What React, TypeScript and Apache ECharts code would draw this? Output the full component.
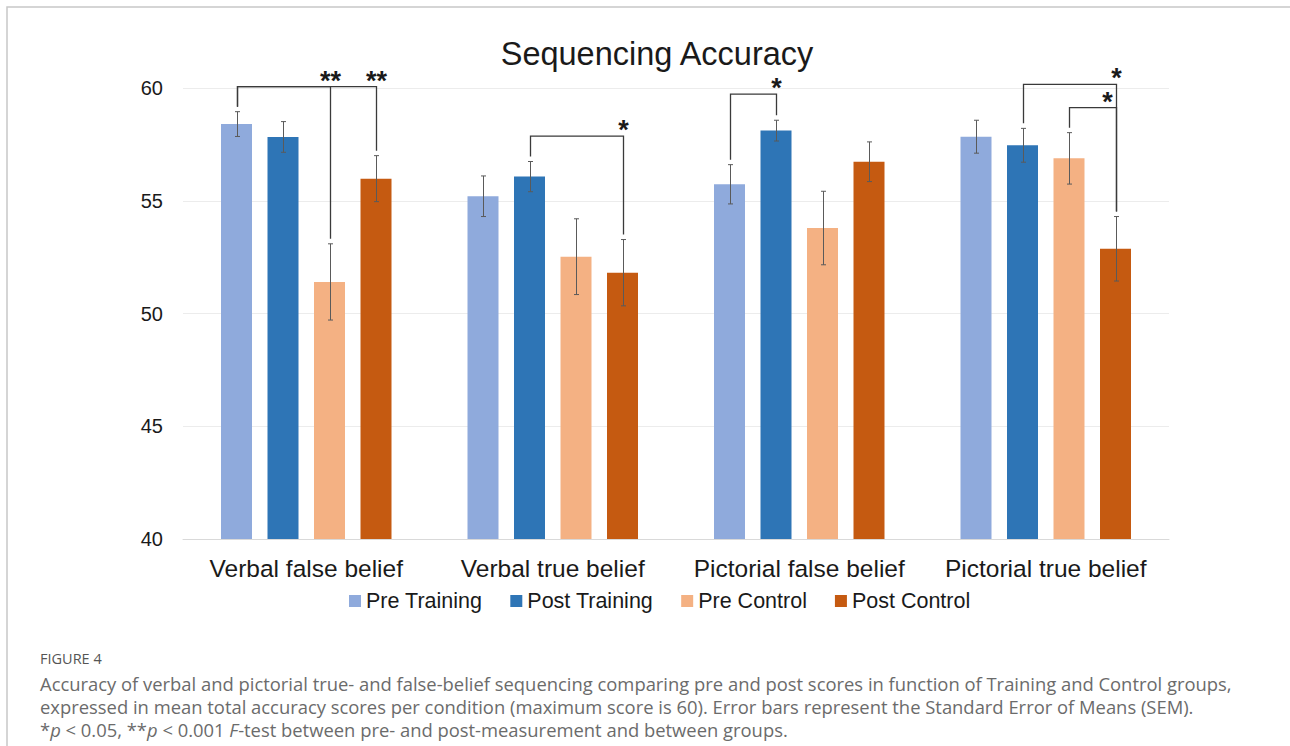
import React, { useEffect, useRef } from "react";
import * as echarts from "echarts";

// ---------- data ----------
const categories = [
  "Verbal false belief",
  "Verbal true belief",
  "Pictorial false belief",
  "Pictorial true belief",
];
const seriesNames = ["Pre Training", "Post Training", "Pre Control", "Post Control"];
const preTraining = [58.4, 55.2, 55.73, 57.84];
const postTraining = [57.83, 56.07, 58.11, 57.46];
const preControl = [51.4, 52.52, 53.79, 56.88];
const postControl = [55.98, 51.81, 56.73, 52.87];
const semPreTraining = [0.55, 0.9, 0.87, 0.73];
const semPostTraining = [0.68, 0.67, 0.46, 0.75];
const semPreControl = [1.69, 1.68, 1.63, 1.14];
const semPostControl = [1.02, 1.47, 0.88, 1.43];
const yMin = 40;
const yMax = 60;
const yInterval = 5;

// significance brackets (category index, from-series, to-series, bracket level, label)
const bracketCategory = [0, 0, 1, 2, 3, 3];
const bracketFrom = [0, 0, 1, 0, 1, 2];
const bracketTo = [2, 3, 3, 1, 3, 3];
const bracketLevel = [60.06, 60.06, 57.87, 59.73, 60.16, 59.13];
const bracketLabel = ["**", "**", "*", "*", "*", "*"];

const captionTitle = "FIGURE 4";
const captionLines = [
  "Accuracy of verbal and pictorial true- and false-belief sequencing comparing pre and post scores in function of Training and Control groups,",
  "expressed in mean total accuracy scores per condition (maximum score is 60). Error bars represent the Standard Error of Means (SEM).",
  "*{i|p} < 0.05, **{i|p} < 0.001 {i|F}-test between pre- and post-measurement and between groups.",
];

// ---------- styling ----------
const colors = ["#8FAADC", "#2E75B6", "#F4B183", "#C55A11"];
const BAR_WIDTH = 31;
const BAR_GAP = 0.5;
const CAP = 2.5;
const FONT = "'Liberation Sans', Arial, sans-serif";
const CAPTION_FONT = "'Open Sans', 'Noto Sans', sans-serif";

const allValues = [preTraining, postTraining, preControl, postControl];
const allSem = [semPreTraining, semPostTraining, semPreControl, semPostControl];

const barOffset = (s: number) => (s - 1.5) * BAR_WIDTH * (1 + BAR_GAP);

export default function App() {
  const ref = useRef<HTMLDivElement>(null);

  useEffect(() => {
    if (!ref.current) return;
    const chart = echarts.init(ref.current, undefined, { renderer: "svg" });

    const errorData: number[][] = [];
    allValues.forEach((vals, s) => {
      vals.forEach((v, c) => errorData.push([c, v, allSem[s][c], s]));
    });

    const bracketData = bracketCategory.map((c, i) => [c, bracketLevel[i], bracketFrom[i], bracketTo[i], i]);

    const option: any = {
      animation: false,
      backgroundColor: "#ffffff",
      grid: { left: 183, right: 121, top: 88, bottom: 207, containLabel: false },
      legend: {
        data: seriesNames,
        left: 344,
        top: 585,
        icon: "rect",
        itemWidth: 12,
        itemHeight: 12,
        itemGap: 28,
        textStyle: { fontSize: 21.5, color: "#1a1a1a", fontFamily: FONT },
      },
      xAxis: {
        type: "category",
        data: categories,
        axisLine: { lineStyle: { color: "#d9d9d9", width: 1 } },
        axisTick: { show: false },
        axisLabel: { fontSize: 24.5, color: "#1a1a1a", fontFamily: FONT, margin: 17, interval: 0 },
        splitLine: { show: false },
      },
      yAxis: {
        type: "value",
        min: yMin,
        max: yMax,
        interval: yInterval,
        axisLine: { show: false },
        axisTick: { show: false },
        axisLabel: { fontSize: 20, color: "#1a1a1a", fontFamily: FONT, margin: 20 },
        splitLine: { lineStyle: { color: "#ececec", width: 1 } },
      },
      series: [
        ...allValues.map((vals, s) => ({
          name: seriesNames[s],
          type: "bar",
          data: vals,
          barWidth: BAR_WIDTH,
          barGap: `${BAR_GAP * 100}%`,
          itemStyle: { color: colors[s] },
          z: 2,
        })),
        {
          type: "custom",
          name: "error",
          data: errorData,
          encode: { x: 0, y: 1 },
          z: 5,
          clip: false,
          silent: true,
          renderItem: (_p: any, api: any) => {
            const c = api.value(0);
            const v = api.value(1);
            const e = api.value(2);
            const s = api.value(3);
            const base = api.coord([c, v]);
            const x = Math.round(base[0] + barOffset(s)) + 0.5;
            const top = api.coord([c, v + e])[1];
            const bot = api.coord([c, v - e])[1];
            const st = { stroke: "#5a5a5a", lineWidth: 1 };
            return {
              type: "group",
              children: [
                { type: "line", shape: { x1: x, y1: top, x2: x, y2: bot }, style: st },
                { type: "line", shape: { x1: x - CAP, y1: top, x2: x + CAP, y2: top }, style: st },
                { type: "line", shape: { x1: x - CAP, y1: bot, x2: x + CAP, y2: bot }, style: st },
              ],
            };
          },
        },
        {
          type: "custom",
          name: "brackets",
          data: bracketData,
          encode: { x: 0, y: 1 },
          z: 6,
          clip: false,
          silent: true,
          renderItem: (_p: any, api: any) => {
            const c = api.value(0);
            const level = api.value(1);
            const f = api.value(2);
            const t = api.value(3);
            const idx = api.value(4);
            const base = api.coord([c, level]);
            const yL = base[1];
            const xF = Math.round(base[0] + barOffset(f)) + 0.5;
            const xT = Math.round(base[0] + barOffset(t)) + 0.5;
            const topF = api.coord([c, allValues[f][c] + allSem[f][c]])[1] - 5;
            const topT = api.coord([c, allValues[t][c] + allSem[t][c]])[1] - 5;
            // shift the label left when a taller bracket's leg passes through the same spot
            const blocked = bracketCategory.some(
              (cc, j) => j !== idx && cc === c && bracketTo[j] === t && bracketLevel[j] > level
            );
            const st = { stroke: "#3a3a3a", lineWidth: 1.3, fill: "none" };
            return {
              type: "group",
              children: [
                {
                  type: "polyline",
                  shape: { points: [[xF, topF], [xF, yL], [xT, yL], [xT, topT]] },
                  style: st,
                },
                {
                  type: "text",
                  x: xT + (blocked ? -9 : 0),
                  y: yL - 6,
                  style: {
                    text: bracketLabel[idx],
                    fontSize: 27,
                    fontWeight: "bold",
                    fontFamily: FONT,
                    fill: "#1a1a1a",
                    align: "center",
                    verticalAlign: "middle",
                  },
                },
              ],
            };
          },
        },
      ],
      graphic: [
        {
          type: "rect",
          shape: { x: 7, y: 7, width: 1400, height: 900 },
          style: { fill: "none", stroke: "#c8c8c8", lineWidth: 1.5 },
          silent: true,
          z: -1,
        },
        {
          type: "text",
          x: 657,
          y: 54,
          style: {
            text: "Sequencing Accuracy",
            fontSize: 32.5,
            fontFamily: FONT,
            fill: "#1a1a1a",
            align: "center",
            verticalAlign: "middle",
          },
        },
        {
          type: "text",
          x: 40,
          y: 658,
          style: {
            text: captionTitle,
            fontSize: 14.5,
            fontFamily: CAPTION_FONT,
            fill: "#555555",
            align: "left",
            verticalAlign: "middle",
          },
        },
        ...captionLines.map((line, i) => ({
          type: "text",
          x: 40,
          y: 683 + i * 23,
          style: {
            text: line,
            fontSize: 18.4,
            fontFamily: CAPTION_FONT,
            fill: "#6b6b6b",
            align: "left",
            verticalAlign: "middle",
            rich: {
              i: { fontStyle: "italic", fontSize: 18.4, fontFamily: CAPTION_FONT, fill: "#6b6b6b" },
            },
          },
        })),
      ],
    };

    chart.setOption(option);
    return () => chart.dispose();
  }, []);

  return (
    <div
      ref={ref}
      style={{ position: "fixed", left: 0, top: 0, width: 1290, height: 746, background: "#fff" }}
    />
  );
}
